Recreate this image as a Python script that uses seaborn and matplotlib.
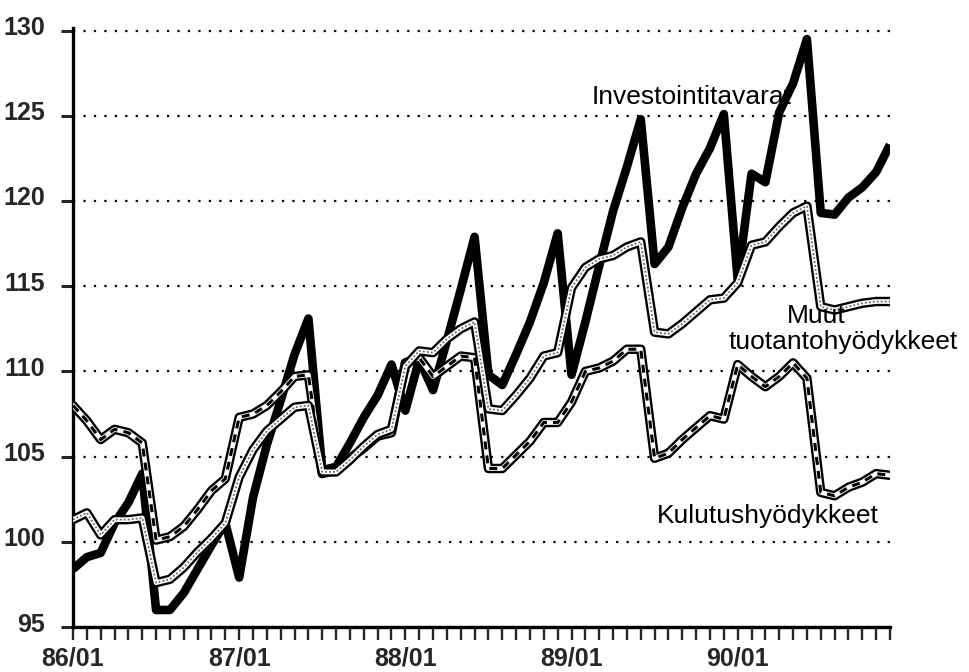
import numpy as np
import pandas as pd
import matplotlib
matplotlib.use("Agg")
import matplotlib.pyplot as plt
import matplotlib.transforms as mtrans
import seaborn as sns

# ---- data (monthly index, 86/01 .. 90/12) ----
months = list(range(60))
tick_labels = ["86/01", "87/01", "88/01", "89/01", "90/01"]
tick_pos = [0, 12, 24, 36, 48]

investointi = [98.4, 99.1, 99.35, 101.1, 102.3, 104.0, 96.0, 96.0, 97.0, 98.4,
               99.8, 101.1, 97.9, 102.6, 105.7, 108.3, 111.0, 113.1, 104.2, 104.4,
               105.8, 107.3, 108.6, 110.4, 107.7, 110.7, 108.9, 111.8, 114.8, 117.9,
               109.8, 109.2, 111.0, 112.9, 115.2, 118.1, 109.8, 112.9, 116.2, 119.4,
               122.0, 124.8, 116.3, 117.3, 119.6, 121.6, 123.1, 125.1, 115.4, 121.6,
               121.1, 125.2, 126.9, 129.5, 119.3, 119.2, 120.2, 120.8, 121.7, 123.3]

muut = [101.3, 101.7, 100.4, 101.3, 101.3, 101.4, 97.6, 97.8, 98.5, 99.4,
        100.2, 101.1, 103.8, 105.4, 106.5, 107.2, 107.9, 108.0, 104.1, 104.1,
        104.8, 105.6, 106.3, 106.6, 110.3, 111.2, 111.1, 111.9, 112.5, 112.9,
        107.8, 107.7, 108.6, 109.6, 110.9, 111.1, 114.9, 116.1, 116.6, 116.8,
        117.3, 117.6, 112.3, 112.2, 112.8, 113.5, 114.2, 114.3, 115.2, 117.4,
        117.6, 118.5, 119.3, 119.7, 113.8, 113.6, 113.8, 114.0, 114.1, 114.1]

kulutus = [108.0, 107.1, 106.0, 106.6, 106.4, 105.8, 100.1, 100.3, 100.9, 101.9,
           103.0, 103.7, 107.3, 107.5, 108.0, 108.8, 109.7, 109.8, 104.0, 104.2,
           104.9, 105.5, 106.2, 106.4, 110.5, 110.8, 109.7, 110.3, 110.9, 110.8,
           104.3, 104.3, 105.1, 105.9, 107.0, 107.0, 108.2, 110.0, 110.2, 110.6,
           111.3, 111.3, 104.9, 105.2, 106.0, 106.7, 107.4, 107.2, 110.4, 109.7,
           109.1, 109.7, 110.5, 109.6, 102.9, 102.7, 103.2, 103.5, 104.0, 103.9]

df_inv = pd.DataFrame({"month": months, "value": investointi})
df_muut = pd.DataFrame({"month": months, "value": muut})
df_kul = pd.DataFrame({"month": months, "value": kulutus})

sns.set_style("white")
plt.rcParams["font.family"] = ["Liberation Sans", "DejaVu Sans"]

fig = plt.figure(figsize=(9.69, 6.72), dpi=100)
ax = fig.add_axes([73 / 969, 1 - 627 / 672, (890 - 73) / 969, (627 - 28) / 672])

# grid
ax.set_axisbelow(True)
ax.yaxis.grid(True, color="black", linewidth=1.6, linestyle=(0, (1, 3.7)))
ax.xaxis.grid(False)

# Investointitavarat: thick black
sns.lineplot(data=df_inv, x="month", y="value", ax=ax, color="black",
             linewidth=6.2, errorbar=None, solid_joinstyle="round",
             solid_capstyle="butt", zorder=3)

# Kulutushyödykkeet: outlined white tube with black dashes inside
sns.lineplot(data=df_kul, x="month", y="value", ax=ax, color="black",
             linewidth=6.8, errorbar=None, solid_joinstyle="round", zorder=4)
sns.lineplot(data=df_kul, x="month", y="value", ax=ax, color="white",
             linewidth=3.4, errorbar=None, solid_joinstyle="round", zorder=4.1)
sns.lineplot(data=df_kul, x="month", y="value", ax=ax, color="black",
             linewidth=2.2, errorbar=None, linestyle=(0, (2.6, 2.0)), zorder=4.2)

# Muut tuotantohyödykkeet: outlined white tube with grey dots inside
sns.lineplot(data=df_muut, x="month", y="value", ax=ax, color="black",
             linewidth=6.8, errorbar=None, solid_joinstyle="round", zorder=5)
sns.lineplot(data=df_muut, x="month", y="value", ax=ax, color="white",
             linewidth=3.4, errorbar=None, solid_joinstyle="round", zorder=5.1)
sns.lineplot(data=df_muut, x="month", y="value", ax=ax, color="#666666",
             linewidth=1.3, errorbar=None, linestyle=(0, (1, 1.2)), zorder=5.2)

# axes
ax.set_xlim(0, 59)
ax.set_ylim(95, 130.15)
ax.set_xlabel("")
ax.set_ylabel("")
for s in ["top", "right"]:
    ax.spines[s].set_visible(False)
for s in ["left", "bottom"]:
    ax.spines[s].set_linewidth(2.4)
    ax.spines[s].set_color("black")
ax.spines["left"].set_bounds(95, 130.15)

ax.set_yticks([95, 100, 105, 110, 115, 120, 125, 130])
ax.set_xticks(tick_pos)
ax.set_xticklabels(tick_labels)
ax.set_xticks(months, minor=True)
ax.tick_params(axis="y", which="major", direction="out", length=9, width=2.2,
               labelsize=18, pad=11, left=True)
ax.tick_params(axis="x", which="both", direction="out", length=9, width=1.7,
               labelsize=18, pad=5, bottom=True)
for lbl in ax.get_yticklabels() + ax.get_xticklabels():
    lbl.set_fontweight("bold")
off = mtrans.ScaledTranslation(0, 5 / 100, fig.dpi_scale_trans)
for lbl in ax.get_yticklabels():
    lbl.set_transform(lbl.get_transform() + off)

# series labels
txt = dict(fontsize=19, color="black", zorder=10, clip_on=False)
ax.text(37.47, 125.68, "Investointitavarat", ha="left", va="baseline", **txt)
ax.text(53.65, 112.83, "Muut", ha="center", va="baseline", **txt)
ax.text(47.36, 111.31, "tuotantohyödykkeet", ha="left", va="baseline", **txt)
ax.text(42.17, 101.09, "Kulutushyödykkeet", ha="left", va="baseline", **txt)

fig.savefig("out.png", dpi=100)
